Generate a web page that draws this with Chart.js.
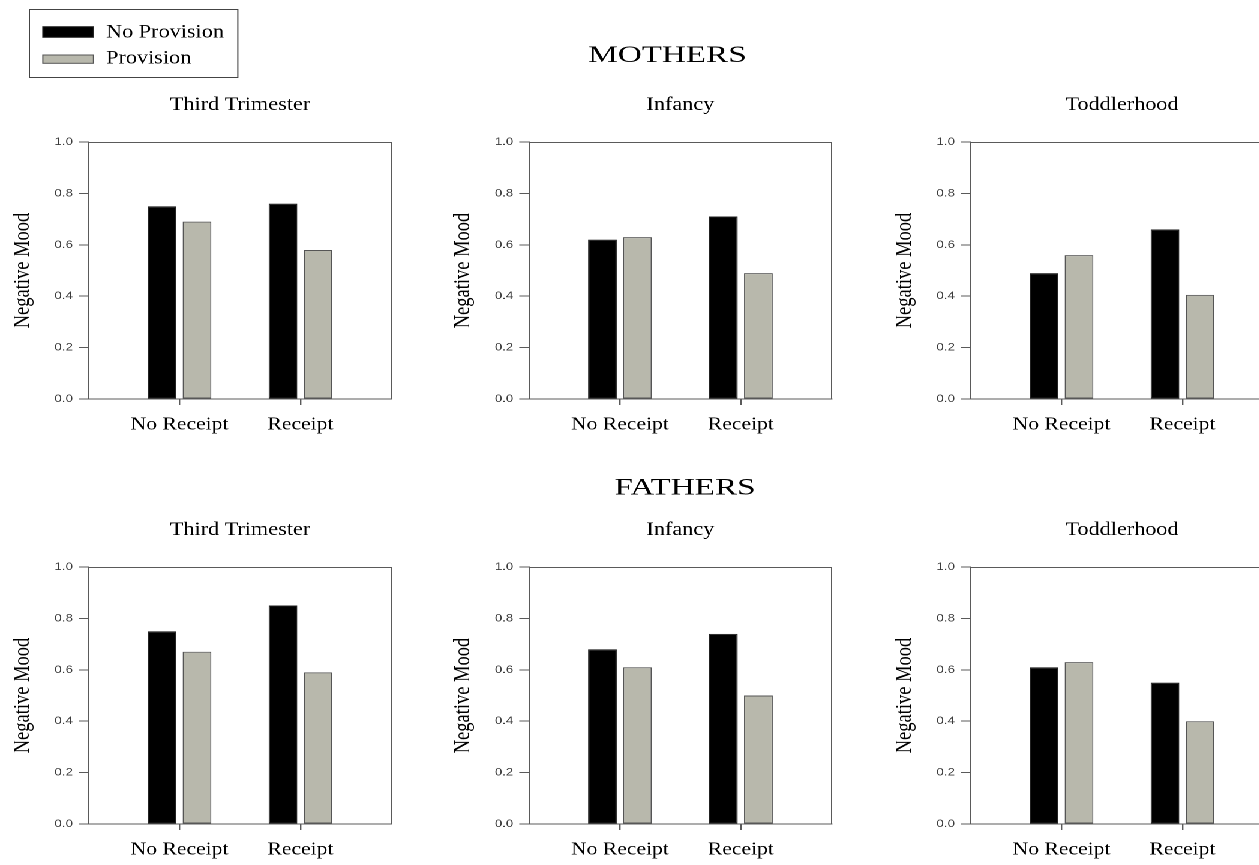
<!DOCTYPE html>
<html>
<head>
<meta charset="utf-8">
<title>Negative Mood by Receipt and Provision of Support</title>
<script src="https://cdn.jsdelivr.net/npm/chart.js@4.4.1/dist/chart.umd.min.js"></script>
<style>
  html, body { margin: 0; padding: 0; background: #ffffff; overflow: hidden; width: 1259px; height: 865px; }
  /* the whole figure is laid out on a narrower stage and widened horizontally */
  #stage { position: absolute; left: 0; top: 0; width: 1049.2px; height: 865px; transform: scaleX(1.2); transform-origin: 0 0; }
  #stage canvas { position: absolute; }
</style>
</head>
<body>
<div id="stage"></div>
<script>
// ---- data ----
const receiptCategories = ['No Receipt', 'Receipt'];
const provisionSeries = ['No Provision', 'Provision'];
const periodTitles = ['Third Trimester', 'Infancy', 'Toddlerhood'];
const parentGroups = ['MOTHERS', 'FATHERS'];
const moodTicks = [0.0, 0.2, 0.4, 0.6, 0.8, 1.0];
const yAxisTitle = 'Negative Mood';

const mothersThirdTrimesterNoProvision = [0.75, 0.76];
const mothersThirdTrimesterProvision   = [0.69, 0.58];
const mothersInfancyNoProvision        = [0.62, 0.71];
const mothersInfancyProvision          = [0.63, 0.49];
const mothersToddlerhoodNoProvision    = [0.49, 0.66];
const mothersToddlerhoodProvision      = [0.56, 0.405];

const fathersThirdTrimesterNoProvision = [0.75, 0.85];
const fathersThirdTrimesterProvision   = [0.67, 0.59];
const fathersInfancyNoProvision        = [0.68, 0.74];
const fathersInfancyProvision          = [0.61, 0.50];
const fathersToddlerhoodNoProvision    = [0.61, 0.55];
const fathersToddlerhoodProvision      = [0.63, 0.40];

// ---- styling ----
const AXIS_COLOR = '#5a5a5a';
const SERIES_FILL = ['#000000', '#b8b8ac'];
const SERIES_BORDER = ['#222222', '#555555'];
const SERIF = '"Liberation Serif", "Times New Roman", serif';
const SANS = '"Liberation Sans", Arial, sans-serif';

// panel grid geometry (stage units)
const Y_AXIS_W = 70, PLOT_W = 252, PLOT_H = 257, RIGHT_PAD = 6, X_AXIS_H = 45;
const colPlotLeft = [73.8, 441.1, 808.6];
const rows = [
  { canvasTop: 0,   padTop: 142, group: { dx: -10.75, y: 62 } },
  { canvasTop: 440, padTop: 127, group: { dx: 3.8,   y: 54.5 } }
];

const panelValues = [
  [[mothersThirdTrimesterNoProvision, mothersThirdTrimesterProvision],
   [mothersInfancyNoProvision, mothersInfancyProvision],
   [mothersToddlerhoodNoProvision, mothersToddlerhoodProvision]],
  [[fathersThirdTrimesterNoProvision, fathersThirdTrimesterProvision],
   [fathersInfancyNoProvision, fathersInfancyProvision],
   [fathersToddlerhoodNoProvision, fathersToddlerhoodProvision]]
];

// frame, panel titles, group heading and legend
const panelText = {
  id: 'panelText',
  beforeDatasetsDraw(chart) {
    const { ctx, chartArea: a } = chart;
    ctx.save();
    ctx.strokeStyle = AXIS_COLOR;
    ctx.lineWidth = 1;
    ctx.beginPath();
    const top = Math.round(a.top) + 0.5;
    ctx.moveTo(a.left, top); ctx.lineTo(a.right, top);
    ctx.moveTo(a.right, a.top); ctx.lineTo(a.right, a.bottom);
    ctx.stroke();
    ctx.restore();
  },
  afterDraw(chart, args, opts) {
    const { ctx, chartArea: a } = chart;
    const cx = (a.left + a.right) / 2;
    ctx.save();
    ctx.fillStyle = '#000000';
    ctx.textAlign = 'center';
    ctx.textBaseline = 'alphabetic';
    ctx.font = '18.5px ' + SERIF;
    ctx.fillText(opts.title, cx, a.top - 32);

    if (opts.group) {
      ctx.save();
      ctx.font = '23px ' + SERIF;
      ctx.translate(cx + opts.group.dx, opts.group.y);
      ctx.scale(1.2, 1);
      ctx.fillText(opts.group.text, 0, 0);
      ctx.restore();
    }

    if (opts.legend) {
      const ds = chart.data.datasets;
      ctx.strokeStyle = '#444444';
      ctx.lineWidth = 1;
      ctx.strokeRect(20.5, 9.5, 173.7, 68);
      const swatchY = [26.7, 55], swatchH = [10.6, 8.3], textY = [37.3, 63.3];
      ctx.textAlign = 'left';
      ctx.font = '18.5px ' + SERIF;
      ds.forEach((d, i) => {
        ctx.fillStyle = d.backgroundColor;
        ctx.fillRect(31.7, swatchY[i], 42.2, swatchH[i]);
        ctx.strokeStyle = d.borderColor;
        ctx.strokeRect(31.7, swatchY[i], 42.2, swatchH[i]);
        ctx.fillStyle = '#000000';
        ctx.fillText(d.label, 84.4, textY[i]);
      });
    }
    ctx.restore();
  }
};

const stage = document.getElementById('stage');

panelValues.forEach((rowVals, r) => {
  rowVals.forEach((series, c) => {
    const canvas = document.createElement('canvas');
    const w = Y_AXIS_W + PLOT_W + RIGHT_PAD;
    const h = rows[r].padTop + PLOT_H + X_AXIS_H;
    canvas.width = w;
    canvas.height = h;
    canvas.style.left = (colPlotLeft[c] - Y_AXIS_W) + 'px';
    canvas.style.top = rows[r].canvasTop + 'px';
    canvas.style.width = w + 'px';
    canvas.style.height = h + 'px';
    stage.appendChild(canvas);

    new Chart(canvas, {
      type: 'bar',
      data: {
        datasets: provisionSeries.map((name, s) => ({
          label: name,
          data: series[s].map((v, i) => ({ x: i, y: v })),
          backgroundColor: SERIES_FILL[s],
          borderColor: SERIES_BORDER[s],
          borderWidth: 1,
          borderSkipped: false,
          categoryPercentage: 0.5787,
          barPercentage: 0.82
        }))
      },
      options: {
        responsive: false,
        animation: false,
        devicePixelRatio: 2,
        layout: { padding: { top: rows[r].padTop, right: RIGHT_PAD, left: 0, bottom: 0 } },
        plugins: {
          legend: { display: false },
          tooltip: { enabled: false },
          panelText: {
            title: periodTitles[c],
            group: c === 1 ? { text: parentGroups[r], dx: rows[r].group.dx, y: rows[r].group.y } : null,
            legend: r === 0 && c === 0
          }
        },
        scales: {
          x: {
            type: 'linear',
            offset: false,
            bounds: 'data',
            min: -0.75,
            max: 1.75,
            afterBuildTicks: s => { s.ticks = receiptCategories.map((_, i) => ({ value: i })); },
            afterFit: s => { s.height = X_AXIS_H; },
            ticks: {
              callback: v => receiptCategories[v],
              color: '#000000',
              font: { family: SERIF, size: 18, lineHeight: 1.2 },
              padding: 9,
              maxRotation: 0,
              autoSkip: false
            },
            grid: { offset: false, drawOnChartArea: false, drawTicks: true, tickLength: 6, color: AXIS_COLOR, lineWidth: 1.2 },
            border: { display: true, color: AXIS_COLOR, width: 1 }
          },
          y: {
            type: 'linear',
            min: 0,
            max: 1,
            afterBuildTicks: s => { s.ticks = moodTicks.map(v => ({ value: v })); },
            afterFit: s => { s.width = Y_AXIS_W; },
            ticks: {
              callback: v => v.toFixed(1),
              color: '#3c3c3c',
              font: { family: SANS, size: 11 },
              padding: 5
            },
            grid: { drawOnChartArea: false, drawTicks: true, tickLength: 8.3, color: AXIS_COLOR },
            border: { display: true, color: AXIS_COLOR, width: 1 },
            title: {
              display: true,
              text: yAxisTitle,
              color: '#000000',
              font: { family: SERIF, size: 18.5, lineHeight: 1.2 },
              padding: { top: 4, bottom: 0 }
            }
          }
        }
      },
      plugins: [panelText]
    });
  });
});
</script>
</body>
</html>
